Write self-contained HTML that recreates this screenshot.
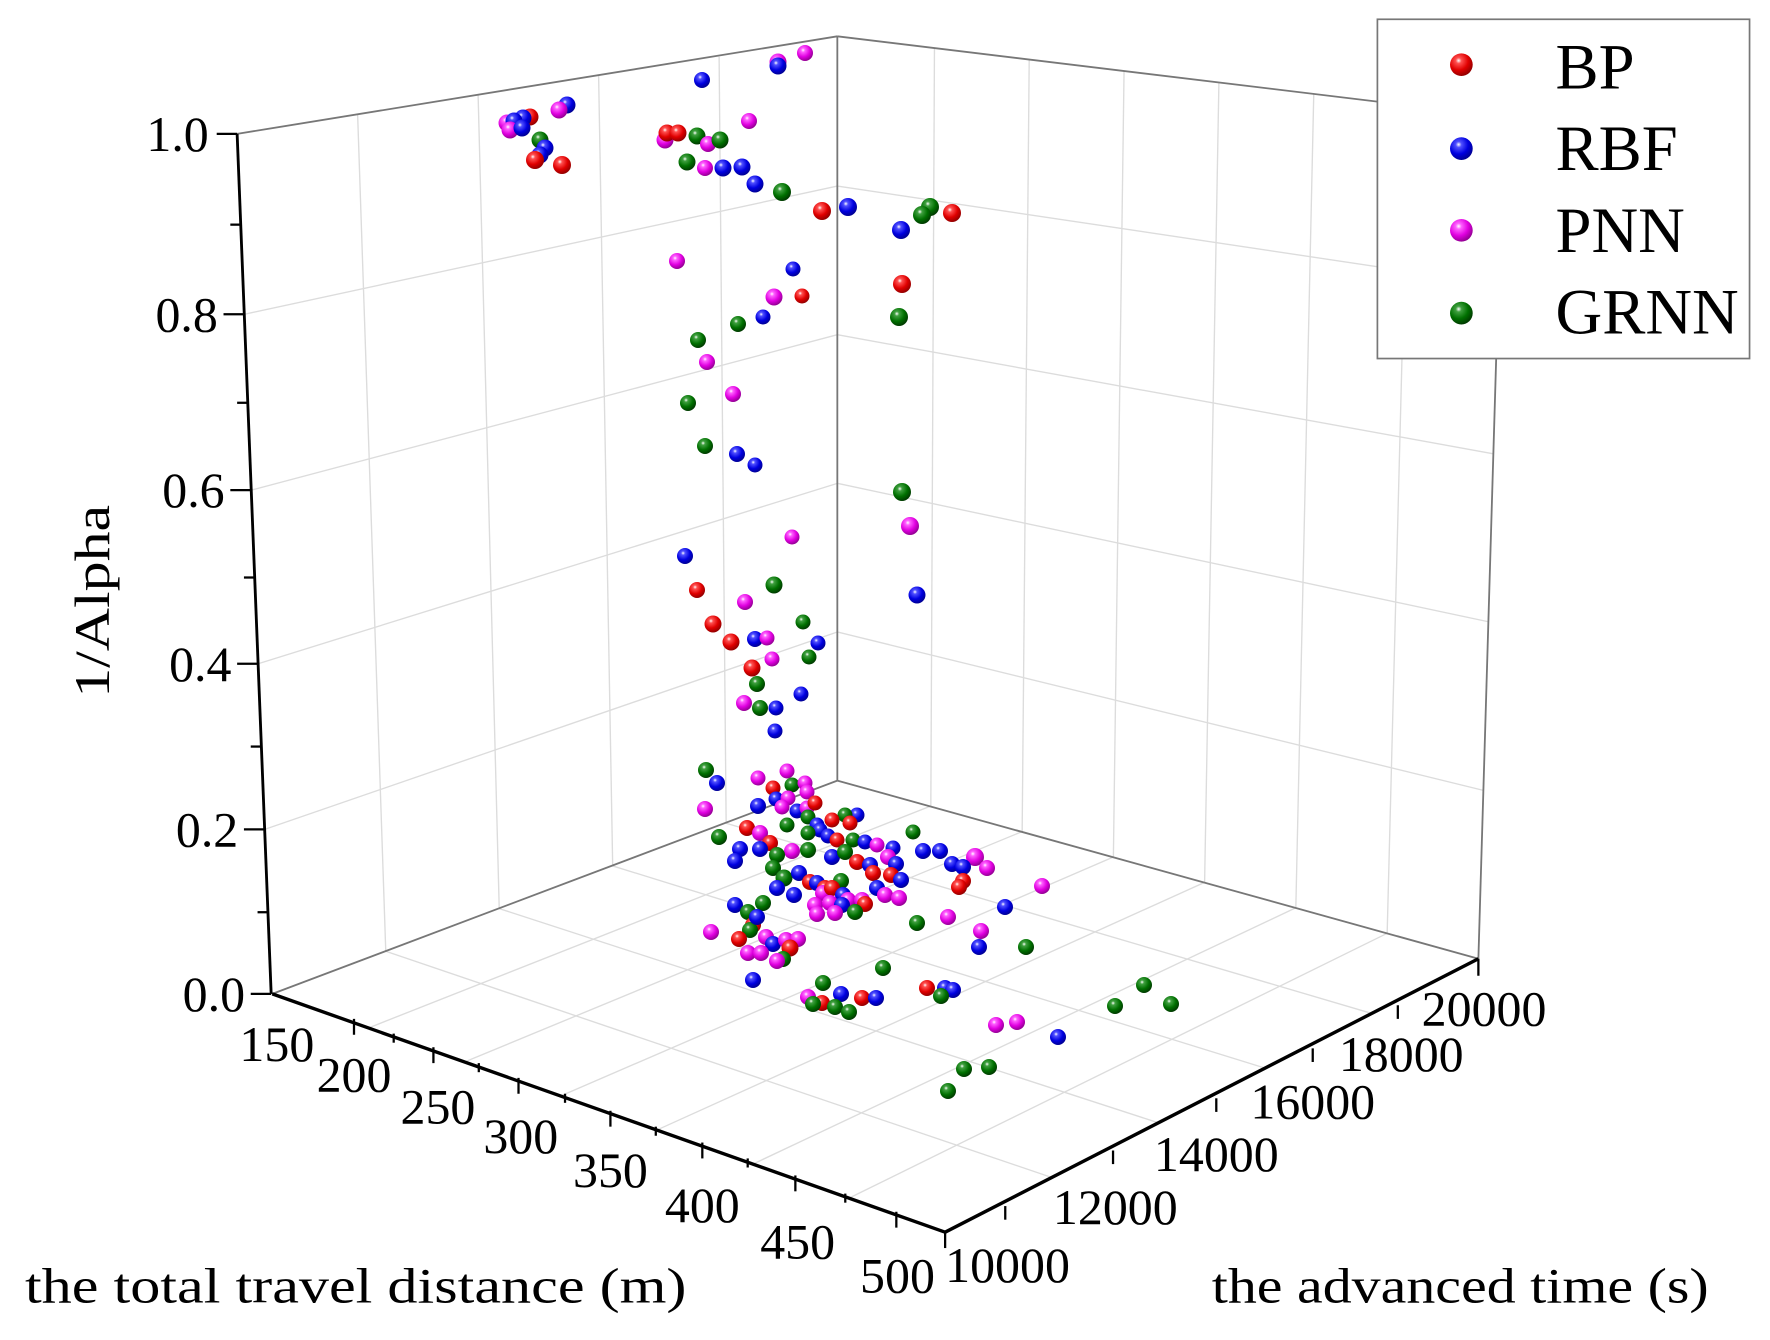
<!DOCTYPE html>
<html><head><meta charset="utf-8"><style>html,body{margin:0;padding:0;background:#fff}svg{display:block}svg text{font-family:"Liberation Serif","Times New Roman",serif}</style></head>
<body>
<svg width="1770" height="1340" viewBox="0 0 1770 1340" xmlns="http://www.w3.org/2000/svg">
<defs>
<radialGradient id="gr" cx="0.38" cy="0.32" r="0.7"><stop offset="0" stop-color="#fff"/><stop offset="0.18" stop-color="#ff5050"/><stop offset="0.6" stop-color="#e00000"/><stop offset="1" stop-color="#900000"/></radialGradient>
<radialGradient id="gb" cx="0.38" cy="0.32" r="0.7"><stop offset="0" stop-color="#fff"/><stop offset="0.18" stop-color="#5050ff"/><stop offset="0.6" stop-color="#0000e0"/><stop offset="1" stop-color="#000090"/></radialGradient>
<radialGradient id="gm" cx="0.38" cy="0.32" r="0.7"><stop offset="0" stop-color="#fff"/><stop offset="0.18" stop-color="#ff60ff"/><stop offset="0.6" stop-color="#e000e0"/><stop offset="1" stop-color="#900090"/></radialGradient>
<radialGradient id="gg" cx="0.38" cy="0.32" r="0.7"><stop offset="0" stop-color="#fff"/><stop offset="0.18" stop-color="#40a040"/><stop offset="0.6" stop-color="#007000"/><stop offset="1" stop-color="#003800"/></radialGradient>
</defs>
<g transform="scale(1.1346)">
<g stroke="#dcdcdc" stroke-width="1.2" fill="none">
<line x1="324.7" y1="906" x2="820.4" y2="710.4"/><line x1="409.4" y1="936" x2="900.9" y2="732.9"/><line x1="494.1" y1="966" x2="981.3" y2="755.3"/><line x1="578.9" y1="996" x2="1061.7" y2="777.7"/><line x1="663.6" y1="1026" x2="1142.1" y2="800.1"/><line x1="748.3" y1="1056" x2="1222.6" y2="822.6"/>
<line x1="927" y1="1037.8" x2="340" y2="838.4"/><line x1="1021" y1="989.6" x2="440" y2="800.8"/><line x1="1115" y1="941.4" x2="540" y2="763.2"/><line x1="1209" y1="893.2" x2="640" y2="725.6"/>
<line x1="340" y1="838.4" x2="315.2" y2="101"/><line x1="440" y1="800.8" x2="421.4" y2="84"/><line x1="540" y1="763.2" x2="527.6" y2="67"/><line x1="640" y1="725.6" x2="633.8" y2="50"/>
<line x1="233.3" y1="731" x2="738" y2="557"/><line x1="227.5" y1="585" x2="738" y2="426"/><line x1="221.4" y1="432" x2="738" y2="295"/><line x1="215.3" y1="277" x2="738" y2="164"/>
<line x1="738" y1="557" x2="1307.4" y2="696.6"/><line x1="738" y1="426" x2="1311.8" y2="548"/><line x1="738" y1="295" x2="1316.2" y2="400"/><line x1="738" y1="164" x2="1320.6" y2="251"/>
<line x1="820.4" y1="710.4" x2="823.6" y2="43"/><line x1="900.9" y1="732.9" x2="907.1" y2="53"/><line x1="981.3" y1="755.3" x2="990.7" y2="63"/><line x1="1061.7" y1="777.7" x2="1074.3" y2="73"/><line x1="1142.1" y1="800.1" x2="1157.9" y2="83"/><line x1="1222.6" y1="822.6" x2="1241.4" y2="93"/>
</g>
<g stroke="#777" stroke-width="1.6" fill="none">
<line x1="738" y1="688" x2="738" y2="32"/>
<line x1="209" y1="118" x2="738" y2="32"/>
<line x1="738" y1="32" x2="1325" y2="103"/>
<line x1="240" y1="876" x2="738" y2="688"/>
<line x1="738" y1="688" x2="1303" y2="845"/>
<line x1="1303" y1="845" x2="1325" y2="103"/>
</g>
<g stroke="#000" fill="none">
<line x1="209" y1="118" x2="239" y2="876" stroke-width="2.5"/>
<line x1="240" y1="876" x2="833" y2="1086" stroke-width="3"/>
<line x1="833" y1="1086" x2="1303" y2="845" stroke-width="3"/>
<g stroke-width="2">
<line x1="191" y1="118" x2="209" y2="118"/><line x1="203" y1="198" x2="212" y2="198"/>
<line x1="197" y1="277" x2="215" y2="277"/><line x1="209" y1="355" x2="218" y2="355"/>
<line x1="203" y1="432" x2="221" y2="432"/><line x1="215" y1="509" x2="224" y2="509"/>
<line x1="209" y1="585" x2="227" y2="585"/><line x1="221" y1="658" x2="230" y2="658"/>
<line x1="215" y1="731" x2="233" y2="731"/><line x1="227" y1="804" x2="236" y2="804"/>
<line x1="221" y1="876" x2="239" y2="876"/>
<line x1="312" y1="898" x2="312" y2="912"/><line x1="347" y1="911" x2="347" y2="919"/>
<line x1="382" y1="923" x2="382" y2="937"/><line x1="422" y1="937" x2="422" y2="945"/>
<line x1="457" y1="950" x2="457" y2="964"/><line x1="498" y1="964" x2="498" y2="972"/>
<line x1="538" y1="979" x2="538" y2="993"/><line x1="578" y1="993" x2="578" y2="1001"/>
<line x1="619" y1="1007" x2="619" y2="1021"/><line x1="659" y1="1021" x2="659" y2="1029"/>
<line x1="701" y1="1036" x2="701" y2="1050"/><line x1="745" y1="1052" x2="745" y2="1060"/>
<line x1="790" y1="1068" x2="790" y2="1082"/>
<line x1="833" y1="1086" x2="833" y2="1100"/>
<line x1="886" y1="1063" x2="886" y2="1075"/><line x1="981" y1="1014" x2="981" y2="1026"/>
<line x1="1072" y1="968" x2="1072" y2="980"/><line x1="1157" y1="924" x2="1157" y2="936"/>
<line x1="1232" y1="886" x2="1232" y2="898"/><line x1="1303" y1="845" x2="1303" y2="860"/>
</g>
</g>
<g font-size="44" fill="#000" text-anchor="end">
<text x="184" y="133">1.0</text><text x="192" y="292">0.8</text><text x="198" y="447">0.6</text>
<text x="204" y="600">0.4</text><text x="210" y="746">0.2</text><text x="216" y="891">0.0</text>
</g>
<g font-size="44" fill="#000" text-anchor="middle">
<text x="244" y="935">150</text><text x="312" y="962">200</text><text x="386" y="990">250</text><text x="459" y="1016">300</text>
<text x="538" y="1046">350</text><text x="619" y="1077">400</text><text x="703" y="1109">450</text><text x="791" y="1139">500</text>
<text x="888" y="1130">10000</text><text x="983" y="1079">12000</text><text x="1072" y="1032">14000</text>
<text x="1157" y="986">16000</text><text x="1235" y="944">18000</text><text x="1308" y="904">20000</text>
</g>
<text x="22" y="1148" font-size="44" textLength="583" lengthAdjust="spacingAndGlyphs">the total travel distance (m)</text>
<text x="1068" y="1148" font-size="44" textLength="438" lengthAdjust="spacingAndGlyphs">the advanced time (s)</text>
<text transform="translate(96,530) rotate(-90)" font-size="44" text-anchor="middle" textLength="170" lengthAdjust="spacingAndGlyphs">1/Alpha</text>
<rect x="1214" y="17" width="328" height="299" fill="#fff" stroke="#777" stroke-width="1.5"/>
<g font-size="57" fill="#000">
<text x="1371" y="78">BP</text><text x="1371" y="150">RBF</text><text x="1371" y="222">PNN</text><text x="1371" y="294">GRNN</text>
</g>
<circle cx="1288" cy="57" r="10" fill="url(#gr)"/><circle cx="1288" cy="131" r="10" fill="url(#gb)"/>
<circle cx="1288" cy="203" r="10" fill="url(#gm)"/><circle cx="1288" cy="276" r="10" fill="url(#gg)"/>
</g>
<g id="pts">
<circle cx="507" cy="123" r="8.5" fill="url(#gm)"/><circle cx="530" cy="117" r="8.5" fill="url(#gr)"/><circle cx="523" cy="118" r="8.5" fill="url(#gb)"/><circle cx="514" cy="121" r="8.5" fill="url(#gb)"/><circle cx="510" cy="130" r="8.5" fill="url(#gm)"/><circle cx="522" cy="128" r="8.5" fill="url(#gb)"/>
<circle cx="567" cy="105" r="8.5" fill="url(#gb)"/><circle cx="559" cy="110" r="8.5" fill="url(#gm)"/>
<circle cx="540" cy="140" r="8.5" fill="url(#gg)"/><circle cx="545" cy="148" r="8.5" fill="url(#gb)"/><circle cx="540" cy="155" r="8.5" fill="url(#gb)"/><circle cx="535" cy="160" r="9" fill="url(#gr)"/><circle cx="562" cy="165" r="9" fill="url(#gr)"/>
<circle cx="702" cy="80" r="8" fill="url(#gb)"/><circle cx="778" cy="62" r="8.5" fill="url(#gm)"/><circle cx="778" cy="66" r="8.5" fill="url(#gb)"/><circle cx="805" cy="53" r="8" fill="url(#gm)"/>
<circle cx="749" cy="121" r="8" fill="url(#gm)"/><circle cx="665" cy="140" r="8.5" fill="url(#gm)"/><circle cx="667" cy="133" r="8.5" fill="url(#gr)"/><circle cx="678" cy="133" r="8.5" fill="url(#gr)"/><circle cx="697" cy="136" r="8.5" fill="url(#gg)"/><circle cx="708" cy="144" r="8" fill="url(#gm)"/><circle cx="720" cy="140" r="8.5" fill="url(#gg)"/>
<circle cx="687" cy="162" r="8.5" fill="url(#gg)"/><circle cx="705" cy="168" r="8" fill="url(#gm)"/><circle cx="723" cy="168" r="8.5" fill="url(#gb)"/><circle cx="742" cy="167" r="8.5" fill="url(#gb)"/><circle cx="755" cy="184" r="8.5" fill="url(#gb)"/><circle cx="782" cy="192" r="9" fill="url(#gg)"/>
<circle cx="822" cy="211" r="9" fill="url(#gr)"/><circle cx="848" cy="207" r="9" fill="url(#gb)"/><circle cx="952" cy="213" r="9" fill="url(#gr)"/><circle cx="930" cy="207" r="9" fill="url(#gg)"/><circle cx="922" cy="215" r="9" fill="url(#gg)"/><circle cx="901" cy="230" r="9" fill="url(#gb)"/>
<circle cx="677" cy="261" r="8" fill="url(#gm)"/><circle cx="793" cy="269" r="7.5" fill="url(#gb)"/><circle cx="802" cy="296" r="7.5" fill="url(#gr)"/><circle cx="774" cy="297" r="8.5" fill="url(#gm)"/><circle cx="763" cy="317" r="7.5" fill="url(#gb)"/><circle cx="738" cy="324" r="8" fill="url(#gg)"/><circle cx="698" cy="340" r="8" fill="url(#gg)"/><circle cx="707" cy="362" r="8" fill="url(#gm)"/>
<circle cx="902" cy="284" r="9" fill="url(#gr)"/><circle cx="899" cy="317" r="9" fill="url(#gg)"/>
<circle cx="733" cy="394" r="8" fill="url(#gm)"/><circle cx="688" cy="403" r="8" fill="url(#gg)"/><circle cx="705" cy="446" r="8" fill="url(#gg)"/><circle cx="737" cy="454" r="8" fill="url(#gb)"/><circle cx="755" cy="465" r="7.5" fill="url(#gb)"/>
<circle cx="902" cy="492" r="9" fill="url(#gg)"/><circle cx="910" cy="526" r="9" fill="url(#gm)"/><circle cx="917" cy="595" r="8.5" fill="url(#gb)"/>
<circle cx="792" cy="537" r="7.5" fill="url(#gm)"/><circle cx="685" cy="556" r="8" fill="url(#gb)"/><circle cx="697" cy="590" r="8" fill="url(#gr)"/><circle cx="774" cy="585" r="8.5" fill="url(#gg)"/><circle cx="745" cy="602" r="8" fill="url(#gm)"/>
<circle cx="713" cy="624" r="8.5" fill="url(#gr)"/><circle cx="731" cy="642" r="8.5" fill="url(#gr)"/><circle cx="755" cy="639" r="8" fill="url(#gb)"/><circle cx="767" cy="638" r="7.5" fill="url(#gm)"/><circle cx="803" cy="622" r="7.5" fill="url(#gg)"/><circle cx="818" cy="643" r="7.5" fill="url(#gb)"/><circle cx="809" cy="657" r="7.5" fill="url(#gg)"/><circle cx="772" cy="659" r="7.5" fill="url(#gm)"/>
<circle cx="752" cy="668" r="8.5" fill="url(#gr)"/><circle cx="757" cy="684" r="8" fill="url(#gg)"/><circle cx="801" cy="694" r="7.5" fill="url(#gb)"/><circle cx="744" cy="703" r="8" fill="url(#gm)"/><circle cx="760" cy="708" r="8" fill="url(#gg)"/><circle cx="776" cy="708" r="7.5" fill="url(#gb)"/><circle cx="775" cy="731" r="7.5" fill="url(#gb)"/>
<circle cx="706" cy="770" r="8" fill="url(#gg)"/><circle cx="717" cy="783" r="8" fill="url(#gb)"/><circle cx="758" cy="778" r="7.5" fill="url(#gm)"/><circle cx="787" cy="771" r="7.5" fill="url(#gm)"/><circle cx="773" cy="788" r="7.5" fill="url(#gr)"/><circle cx="792" cy="785" r="7.5" fill="url(#gg)"/><circle cx="805" cy="783" r="7.5" fill="url(#gm)"/><circle cx="807" cy="792" r="7.5" fill="url(#gm)"/>
<circle cx="776" cy="799" r="7.5" fill="url(#gb)"/><circle cx="788" cy="798" r="7.5" fill="url(#gm)"/><circle cx="705" cy="809" r="8" fill="url(#gm)"/><circle cx="758" cy="806" r="8" fill="url(#gb)"/><circle cx="782" cy="807" r="7.5" fill="url(#gm)"/><circle cx="797" cy="811" r="7.5" fill="url(#gb)"/><circle cx="807" cy="808" r="7.5" fill="url(#gm)"/><circle cx="815" cy="803" r="7.5" fill="url(#gr)"/>
<circle cx="808" cy="817" r="7.5" fill="url(#gg)"/><circle cx="857" cy="815" r="7.5" fill="url(#gb)"/><circle cx="845" cy="815" r="7.5" fill="url(#gg)"/><circle cx="832" cy="820" r="7.5" fill="url(#gr)"/><circle cx="850" cy="823" r="7.5" fill="url(#gr)"/><circle cx="817" cy="825" r="7.5" fill="url(#gb)"/><circle cx="820" cy="830" r="7.5" fill="url(#gb)"/>
<circle cx="719" cy="837" r="8" fill="url(#gg)"/><circle cx="747" cy="828" r="8" fill="url(#gr)"/><circle cx="760" cy="833" r="8" fill="url(#gm)"/><circle cx="787" cy="825" r="7.5" fill="url(#gg)"/><circle cx="808" cy="833" r="7.5" fill="url(#gg)"/><circle cx="828" cy="836" r="7.5" fill="url(#gb)"/><circle cx="837" cy="840" r="7.5" fill="url(#gr)"/><circle cx="853" cy="840" r="7.5" fill="url(#gg)"/><circle cx="865" cy="842" r="7.5" fill="url(#gb)"/><circle cx="877" cy="845" r="7.5" fill="url(#gm)"/><circle cx="893" cy="848" r="7.5" fill="url(#gb)"/><circle cx="913" cy="832" r="7.5" fill="url(#gg)"/>
<circle cx="770" cy="843" r="8" fill="url(#gr)"/><circle cx="740" cy="849" r="8" fill="url(#gb)"/><circle cx="760" cy="849" r="8" fill="url(#gb)"/><circle cx="792" cy="851" r="8" fill="url(#gm)"/><circle cx="808" cy="850" r="8" fill="url(#gg)"/><circle cx="777" cy="855" r="8" fill="url(#gg)"/><circle cx="832" cy="857" r="8" fill="url(#gb)"/><circle cx="845" cy="852" r="8" fill="url(#gg)"/>
<circle cx="735" cy="861" r="8" fill="url(#gb)"/><circle cx="857" cy="862" r="8" fill="url(#gr)"/><circle cx="870" cy="865" r="8" fill="url(#gb)"/><circle cx="888" cy="857" r="8" fill="url(#gm)"/><circle cx="896" cy="864" r="8" fill="url(#gb)"/><circle cx="923" cy="851" r="8" fill="url(#gb)"/><circle cx="940" cy="851" r="8" fill="url(#gb)"/><circle cx="975" cy="857" r="9" fill="url(#gm)"/><circle cx="987" cy="868" r="8" fill="url(#gm)"/><circle cx="952" cy="864" r="8" fill="url(#gb)"/><circle cx="963" cy="867" r="8" fill="url(#gb)"/>
<circle cx="773" cy="868" r="8" fill="url(#gg)"/><circle cx="873" cy="873" r="8" fill="url(#gr)"/><circle cx="891" cy="875" r="8" fill="url(#gr)"/><circle cx="901" cy="880" r="8" fill="url(#gb)"/><circle cx="784" cy="878" r="8.5" fill="url(#gg)"/><circle cx="799" cy="873" r="8" fill="url(#gb)"/><circle cx="810" cy="882" r="8" fill="url(#gr)"/><circle cx="817" cy="883" r="8" fill="url(#gb)"/><circle cx="841" cy="881" r="8" fill="url(#gg)"/>
<circle cx="963" cy="881" r="8" fill="url(#gr)"/><circle cx="959" cy="887" r="8" fill="url(#gr)"/><circle cx="1042" cy="886" r="8" fill="url(#gm)"/><circle cx="777" cy="888" r="8" fill="url(#gb)"/><circle cx="794" cy="895" r="8" fill="url(#gb)"/><circle cx="825" cy="888" r="8" fill="url(#gr)"/><circle cx="823" cy="893" r="8" fill="url(#gm)"/><circle cx="832" cy="888" r="8" fill="url(#gr)"/>
<circle cx="877" cy="888" r="8" fill="url(#gb)"/><circle cx="885" cy="895" r="8" fill="url(#gm)"/><circle cx="899" cy="898" r="8" fill="url(#gm)"/><circle cx="843" cy="895" r="8" fill="url(#gb)"/><circle cx="848" cy="900" r="8" fill="url(#gm)"/><circle cx="862" cy="900" r="8" fill="url(#gm)"/><circle cx="865" cy="904" r="8" fill="url(#gr)"/>
<circle cx="815" cy="905" r="8" fill="url(#gm)"/><circle cx="830" cy="903" r="8" fill="url(#gm)"/><circle cx="842" cy="905" r="8" fill="url(#gb)"/><circle cx="817" cy="914" r="8" fill="url(#gm)"/><circle cx="835" cy="913" r="8" fill="url(#gm)"/><circle cx="855" cy="912" r="8" fill="url(#gg)"/>
<circle cx="735" cy="905" r="8" fill="url(#gb)"/><circle cx="763" cy="903" r="8" fill="url(#gg)"/><circle cx="748" cy="912" r="8" fill="url(#gg)"/><circle cx="753" cy="925" r="8" fill="url(#gr)"/><circle cx="750" cy="930" r="8" fill="url(#gg)"/><circle cx="757" cy="917" r="8" fill="url(#gb)"/><circle cx="711" cy="932" r="8" fill="url(#gm)"/>
<circle cx="917" cy="923" r="8" fill="url(#gg)"/><circle cx="948" cy="917" r="8" fill="url(#gm)"/><circle cx="1005" cy="907" r="8" fill="url(#gb)"/><circle cx="981" cy="931" r="8" fill="url(#gm)"/><circle cx="979" cy="947" r="8" fill="url(#gb)"/><circle cx="1026" cy="947" r="8" fill="url(#gg)"/>
<circle cx="739" cy="939" r="8" fill="url(#gr)"/><circle cx="766" cy="937" r="8" fill="url(#gm)"/><circle cx="773" cy="944" r="8" fill="url(#gb)"/><circle cx="786" cy="940" r="8" fill="url(#gm)"/><circle cx="798" cy="939" r="8" fill="url(#gm)"/><circle cx="790" cy="948" r="8.5" fill="url(#gr)"/>
<circle cx="748" cy="953" r="8" fill="url(#gm)"/><circle cx="761" cy="953" r="8" fill="url(#gm)"/><circle cx="783" cy="959" r="8" fill="url(#gg)"/><circle cx="777" cy="961" r="8" fill="url(#gm)"/><circle cx="753" cy="980" r="8" fill="url(#gb)"/>
<circle cx="883" cy="968" r="8" fill="url(#gg)"/><circle cx="823" cy="983" r="8" fill="url(#gg)"/><circle cx="808" cy="997" r="8" fill="url(#gm)"/><circle cx="822" cy="1003" r="8" fill="url(#gr)"/><circle cx="841" cy="994" r="8" fill="url(#gb)"/><circle cx="813" cy="1004" r="8" fill="url(#gg)"/><circle cx="862" cy="998" r="8" fill="url(#gr)"/><circle cx="876" cy="998" r="8" fill="url(#gb)"/><circle cx="835" cy="1007" r="8" fill="url(#gg)"/><circle cx="849" cy="1012" r="8" fill="url(#gg)"/>
<circle cx="927" cy="988" r="8" fill="url(#gr)"/><circle cx="945" cy="988" r="8" fill="url(#gb)"/><circle cx="953" cy="990" r="8" fill="url(#gb)"/><circle cx="941" cy="996" r="8" fill="url(#gg)"/>
<circle cx="996" cy="1025" r="8" fill="url(#gm)"/><circle cx="1017" cy="1022" r="8" fill="url(#gm)"/><circle cx="1058" cy="1037" r="8" fill="url(#gb)"/>
<circle cx="1144" cy="985" r="8" fill="url(#gg)"/><circle cx="1171" cy="1004" r="8" fill="url(#gg)"/><circle cx="1115" cy="1006" r="8" fill="url(#gg)"/>
<circle cx="989" cy="1067" r="8" fill="url(#gg)"/><circle cx="964" cy="1069" r="8" fill="url(#gg)"/><circle cx="948" cy="1091" r="8" fill="url(#gg)"/>
</g>
</svg>
</body></html>
